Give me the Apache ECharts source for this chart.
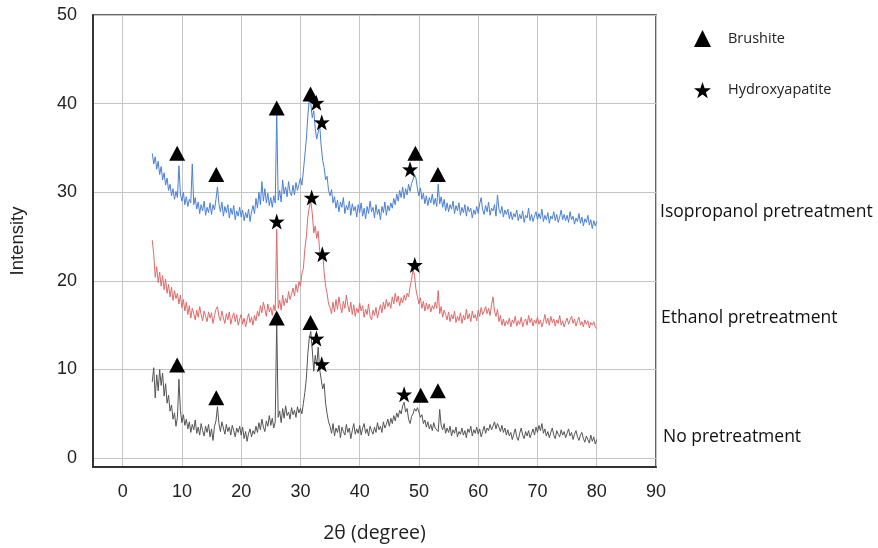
<!DOCTYPE html>
<html>
<head>
<meta charset="utf-8">
<style>
  html, body { margin: 0; padding: 0; background: #fff; }
  #chart { width: 878px; height: 548px; }
</style>
<script src="https://cdn.jsdelivr.net/npm/echarts@6/dist/echarts.min.js"></script>
</head>
<body>
<div id="chart"></div>
<script>
// 2theta grid: 5 .. 80 in steps of 0.25 (one row = 5 degrees)
var xStart = 5;
var xStep = 0.25;

var noPre = [
  8.6, 10.2, 6.8, 9.4, 7.6, 10.0, 8.2, 9.6, 7.0, 8.4, 6.2, 7.1, 5.3, 6.0, 4.4, 5.1, 3.6, 4.6, 8.9, 5.4,
  4.0, 4.9, 3.7, 4.4, 3.3, 4.1, 2.9, 3.8, 3.2, 4.3, 2.8, 3.5, 2.6, 3.9, 3.1, 2.5, 3.6, 2.9, 3.8, 2.4,
  3.3, 2.0, 3.6, 4.2, 5.8, 3.9, 3.0, 4.1, 3.4, 2.7, 3.8, 3.0, 3.5, 2.6, 3.7, 3.1, 2.4, 3.4, 2.9, 3.6,
  2.6, 3.5, 2.2, 3.0, 1.9, 2.8, 3.3, 2.4, 3.1, 2.7, 3.6, 2.9, 4.0, 3.2, 4.4, 3.5, 3.0, 4.2, 3.6, 4.8,
  3.7, 4.5, 3.4, 4.1, 15.5, 4.6, 5.3, 4.0, 5.6, 4.5, 5.9, 4.8, 5.2, 4.4, 5.7, 4.9, 5.4, 4.6, 5.8, 5.1,
  5.6, 5.0, 6.2, 7.4, 9.0, 11.8, 13.6, 14.3, 12.2, 9.8, 11.6, 10.4, 12.5, 10.0, 10.2, 7.8, 8.4, 6.2, 5.0, 4.1,
  3.6, 2.8, 3.9, 2.5, 3.4, 2.9, 3.7, 2.3, 3.5, 3.0, 2.6, 3.8, 2.9, 3.4, 2.2, 3.1, 3.9, 2.7, 3.3, 2.8,
  3.7, 2.6, 3.4, 3.9, 2.8, 3.3, 2.5, 3.6, 3.1, 2.7, 3.5, 2.9, 4.0, 3.2, 3.6, 2.9, 4.1, 3.4, 3.8, 4.4,
  3.6, 4.5, 3.9, 4.8, 4.2, 5.1, 4.6, 5.4, 5.0, 5.9, 6.3, 5.2, 5.6, 4.4, 3.9, 4.7, 5.0, 5.6, 5.3, 5.7,
  5.2, 4.6, 4.9, 3.9, 4.3, 3.5, 4.1, 3.3, 3.8, 3.1, 4.0, 3.4, 3.6, 3.0, 5.5, 3.7, 3.2, 3.9, 2.8, 3.4,
  2.9, 3.6, 2.5, 3.2, 2.8, 3.5, 2.4, 3.0, 2.7, 3.4, 2.6, 3.1, 2.3, 3.3, 2.9, 3.6, 2.5, 3.2, 2.8, 3.5,
  2.7, 3.3, 2.4, 3.0, 3.6, 2.8, 3.4, 3.1, 3.8, 3.2, 3.6, 4.1, 3.3, 3.9, 3.5, 3.0, 3.7, 2.9, 3.4, 2.6,
  3.2, 2.5, 2.9, 2.1, 2.7, 3.3, 2.4, 2.0, 2.8, 3.4, 2.6, 2.2, 3.0, 2.5, 3.1, 2.3, 2.8, 3.3, 2.6, 3.5,
  2.9, 3.7, 3.1, 3.9, 2.8, 3.3, 2.5, 3.0, 2.3, 2.9, 3.4, 2.6, 2.2, 3.1, 2.7, 2.4, 3.2, 2.6, 3.0, 2.3,
  2.8, 3.3, 2.5, 2.9, 2.1, 2.7, 3.1, 2.4, 2.0, 2.6, 2.9, 2.2, 1.8, 2.5, 2.3, 1.7, 2.6, 1.9, 2.4, 1.6,
  2.1
];

var ethanol = [
  24.6, 23.0, 20.4, 21.6, 19.8, 21.0, 19.4, 20.6, 19.0, 20.2, 18.6, 19.6, 18.2, 19.3, 17.8, 18.9, 18.0, 18.6, 17.4, 18.4,
  17.0, 17.9, 16.6, 17.6, 16.2, 17.2, 15.8, 16.9, 16.3, 15.6, 16.7, 15.9, 17.1, 16.2, 15.5, 16.6, 16.0, 15.4, 16.5, 15.8,
  16.4, 15.2, 16.1, 16.8, 17.1, 16.0, 15.5, 16.6, 15.8, 15.2, 16.3, 15.6, 16.5, 15.1, 15.9, 16.4, 15.4, 16.2, 15.0, 15.7,
  16.2, 15.1, 15.8, 14.8, 15.6, 16.3, 15.3, 15.9, 15.0, 16.1, 15.5, 16.6, 16.0, 17.2, 16.4, 17.6, 16.8, 16.0, 17.4, 16.5,
  17.0, 16.1, 17.3, 16.6, 25.8, 16.9, 17.8, 16.7, 18.4, 17.2, 18.0, 17.5, 18.8, 17.9, 18.5, 19.2, 18.3, 19.6, 18.7, 19.9,
  19.4, 20.8, 21.4, 23.6, 25.0, 27.2, 28.3, 29.0, 27.6, 25.4, 26.2, 24.8, 25.6, 23.4, 22.6, 23.2, 21.0, 19.4, 18.6, 17.4,
  17.0, 16.3, 17.6, 16.5, 17.9, 16.8, 18.2, 17.1, 16.4, 17.7, 16.9, 18.4, 17.2, 16.5, 17.6, 16.2, 17.3, 16.0, 16.9, 16.4,
  17.5, 16.6, 17.2, 15.9, 16.8, 16.2, 17.4, 16.0, 15.6, 16.7, 16.1, 17.0, 15.8, 16.6, 17.3, 16.4, 17.6, 16.8, 17.9, 17.1,
  17.6, 16.9, 18.2, 17.4, 18.6, 17.6, 18.3, 17.2, 18.1, 17.5, 18.4, 17.8, 18.6, 18.2, 19.3, 20.2, 21.3, 20.6, 19.0, 18.2,
  17.4, 18.1, 16.9, 17.7, 16.6, 17.5, 16.8, 17.4, 16.5, 17.2, 16.8, 17.6, 16.9, 18.9, 16.3, 17.1, 15.9, 16.7, 16.2, 15.6,
  16.5, 15.4, 16.2, 15.7, 16.6, 15.3, 16.0, 15.5, 16.4, 15.2, 16.1, 15.6, 16.8, 15.7, 16.3, 15.4, 16.6, 15.8, 16.2, 15.5,
  16.7, 16.0, 17.0, 16.2, 16.6, 17.1, 16.3, 16.9, 16.1, 17.3, 18.2, 16.6, 16.0, 16.8, 15.4, 16.1, 15.0, 15.7, 14.9, 15.5,
  15.1, 15.8, 14.8, 15.6, 15.2, 16.0, 14.9, 15.5, 15.1, 15.9, 14.8, 15.4, 15.7, 15.0, 16.1, 15.3, 15.8, 14.9, 15.6, 15.2,
  15.9, 15.1, 15.6, 14.8, 15.4, 16.2, 15.2, 15.8, 15.0, 16.0, 15.3, 15.7, 14.9, 15.6, 15.2, 16.1, 15.0, 15.5, 14.8, 15.4,
  15.8, 15.1, 15.6, 16.0, 15.2, 15.7, 14.9, 15.5, 15.9, 15.0, 15.4, 14.8, 15.6, 15.1, 15.5, 14.7, 15.3, 15.0, 15.4, 14.8,
  14.6
];

var isopropanol = [
  34.4, 33.2, 34.0, 32.6, 33.5, 32.0, 32.9, 31.4, 32.2, 30.8, 31.6, 30.2, 30.9, 29.6, 30.4, 29.2, 30.1, 29.4, 33.0, 29.8,
  29.0, 30.0, 28.6, 29.5, 28.4, 29.2, 28.8, 33.2, 28.6, 29.4, 28.1, 28.9, 27.6, 28.6, 27.9, 29.0, 27.4, 28.3, 27.7, 28.8,
  27.5, 28.6, 28.0, 29.2, 30.6, 28.7, 27.8, 28.9, 27.3, 28.4, 27.7, 28.6, 27.1, 28.2, 27.5, 28.5, 26.9, 27.9, 27.3, 28.3,
  27.2, 28.0, 26.8, 27.7, 27.1, 28.1, 26.7, 27.8, 28.5, 27.6, 29.3, 28.2, 30.0, 28.6, 31.2, 29.0, 30.4, 28.8, 29.9, 28.5,
  29.4, 28.3, 29.6, 28.8, 39.0, 29.1, 30.2, 28.9, 31.4, 29.8, 30.6, 29.5, 31.2, 30.0, 29.6, 30.8, 29.7, 31.1, 30.2, 30.9,
  31.6, 30.8, 32.4, 34.2, 36.0, 38.6, 40.5, 40.0, 38.4, 39.2, 37.2, 36.0, 36.8, 37.6, 35.2, 33.6, 32.8, 31.4, 31.8, 30.2,
  29.6, 30.3, 28.8, 29.5, 28.2, 29.1, 27.8, 28.9, 28.3, 29.4, 27.6, 28.5, 28.0, 29.0, 27.4, 28.7, 27.9, 28.4, 27.2, 28.6,
  27.7, 28.8, 27.3, 28.2, 27.0, 28.4, 27.6, 29.0, 27.8, 28.3, 27.1, 28.6, 27.5, 28.1, 26.9, 28.4, 27.7, 28.9, 27.4, 28.5,
  27.9, 28.8, 28.2, 29.3, 28.6, 29.8, 29.0, 30.2, 29.4, 30.6, 29.3, 30.4, 29.7, 30.9, 30.1, 31.0, 31.4, 32.0, 31.6, 30.4,
  29.6, 30.5, 29.2, 29.9, 28.7, 29.6, 28.5, 29.4, 28.8, 29.8, 28.6, 29.3, 28.4, 30.9, 28.7, 29.5, 28.3, 29.2, 27.9, 28.8,
  27.8, 28.6, 28.1, 29.0, 27.6, 28.5, 27.9, 28.8, 27.4, 28.3, 27.7, 28.6, 27.3, 28.4, 27.8, 28.2, 27.1, 28.0, 27.5, 28.4,
  27.6, 28.7, 29.4, 28.0, 27.5, 28.5, 27.8, 28.9, 27.4, 28.2, 27.9, 28.6, 27.3, 29.7, 28.1, 27.6, 28.4, 27.2, 28.0, 27.5,
  28.1, 27.0, 27.8, 26.9, 27.6, 27.2, 28.0, 26.8, 27.5, 27.0, 27.9, 26.6, 27.4, 27.1, 28.2, 26.8, 27.5, 26.7, 27.3, 27.8,
  26.9, 27.6, 27.0, 28.1, 26.7, 27.4, 26.9, 27.7, 26.5, 27.3, 27.0, 27.8, 26.8, 27.5, 26.6, 27.2, 28.0, 26.9, 27.5, 26.8,
  27.4, 26.6, 27.8, 26.9, 27.3, 26.4, 27.1, 26.7, 27.6, 26.5, 27.2, 26.2, 27.0, 26.6, 27.4, 26.3, 26.9, 25.9, 26.8, 26.2,
  26.7
];

// phase markers [2theta, intensity]
var brushite = [
  [9.2, 34.4], [15.8, 32.0], [26.0, 39.5], [31.7, 41.1], [49.4, 34.4], [53.2, 32.0],
  [26.0, 15.8], [31.7, 15.3], [9.2, 10.5], [15.8, 6.8], [50.3, 7.1], [53.2, 7.6]
];
var hydroxyapatite = [
  [32.7, 40.1], [33.6, 37.9], [48.5, 32.6],
  [26.0, 26.7], [31.9, 29.4], [33.7, 23.0], [49.3, 21.8],
  [32.7, 13.5], [33.6, 10.6], [47.5, 7.2]
];

var xTicks = [0, 10, 20, 30, 40, 50, 60, 70, 80, 90];
var yTicks = [0, 10, 20, 30, 40, 50];

var seriesNames = ['Isopropanol pretreatment', 'Ethanol pretreatment', 'No pretreatment'];

function pairs(values) {
  return values.map(function (v, i) { return [xStart + i * xStep, v]; });
}

var starPath = 'path://M50,0 L61.8,35.1 L97.6,34.5 L69,56.7 L79.4,91 L50,70.5 L20.6,91 L31,56.7 L2.4,34.5 L38.2,35.1 Z';

var chart = echarts.init(document.getElementById('chart'), null, { renderer: 'canvas' });
chart.setOption({
  animation: false,
  backgroundColor: '#fff',
  grid: {
    left: 91, right: 222, top: 15, bottom: 75,
    show: true, borderColor: '#333', borderWidth: 1.5
  },
  legend: {
    data: ['Brushite', 'Hydroxyapatite'],
    orient: 'vertical',
    left: 689,
    top: 25,
    itemGap: 35,
    itemWidth: 17,
    itemHeight: 17,
    textStyle: { fontFamily: 'Open Sans', fontSize: 14.5, color: '#222', padding: [0, 0, 0, 12] }
  },
  xAxis: {
    type: 'value',
    min: -5,
    max: 90,
    name: '2θ (degree)',
    nameLocation: 'middle',
    nameGap: 56,
    nameTextStyle: { fontFamily: 'Open Sans', fontSize: 19.5, color: '#222' },
    axisLine: { show: true, onZero: false, lineStyle: { color: '#333', width: 2 } },
    axisTick: { show: false, customValues: xTicks },
    axisLabel: { customValues: xTicks, fontFamily: 'Liberation Sans', fontSize: 18, color: '#222', margin: 16 },
    splitLine: { show: true, lineStyle: { color: '#c4c4c4', width: 1 } }
  },
  yAxis: {
    type: 'value',
    min: -1,
    max: 50,
    name: 'Intensity',
    nameLocation: 'middle',
    nameGap: 66,
    nameTextStyle: { fontFamily: 'Liberation Sans', fontSize: 18.5, color: '#222' },
    axisLine: { show: true, onZero: false, lineStyle: { color: '#333', width: 2 } },
    axisTick: { show: false, customValues: yTicks },
    axisLabel: { customValues: yTicks, fontFamily: 'Liberation Sans', fontSize: 18, color: '#222', margin: 16 },
    splitLine: { show: true, lineStyle: { color: '#c4c4c4', width: 1 } }
  },
  graphic: [
    { type: 'text', left: 660, top: 203, style: { text: seriesNames[0], fontFamily: 'Open Sans', fontSize: 17.5, fill: '#111' } },
    { type: 'text', left: 661, top: 309, style: { text: seriesNames[1], fontFamily: 'Open Sans', fontSize: 17.5, fill: '#111' } },
    { type: 'text', left: 663, top: 428, style: { text: seriesNames[2], fontFamily: 'Open Sans', fontSize: 17.5, fill: '#111' } }
  ],
  series: [
    {
      name: seriesNames[0],
      type: 'line',
      data: pairs(isopropanol),
      showSymbol: false,
      lineStyle: { color: '#4a7fd8', width: 1 },
      itemStyle: { color: '#4a7fd8' },
      z: 2
    },
    {
      name: seriesNames[1],
      type: 'line',
      data: pairs(ethanol),
      showSymbol: false,
      lineStyle: { color: '#e06a6a', width: 1 },
      itemStyle: { color: '#e06a6a' },
      z: 2
    },
    {
      name: seriesNames[2],
      type: 'line',
      data: pairs(noPre),
      showSymbol: false,
      lineStyle: { color: '#555', width: 1 },
      itemStyle: { color: '#555' },
      z: 2
    },
    {
      name: 'Brushite',
      type: 'scatter',
      data: brushite,
      symbol: 'triangle',
      symbolSize: [16, 15],
      itemStyle: { color: '#000', opacity: 1 },
      z: 5
    },
    {
      name: 'Hydroxyapatite',
      type: 'scatter',
      data: hydroxyapatite,
      symbol: starPath,
      symbolSize: [16, 16],
      itemStyle: { color: '#000', opacity: 1 },
      z: 5
    }
  ]
});
</script>
</body>
</html>
